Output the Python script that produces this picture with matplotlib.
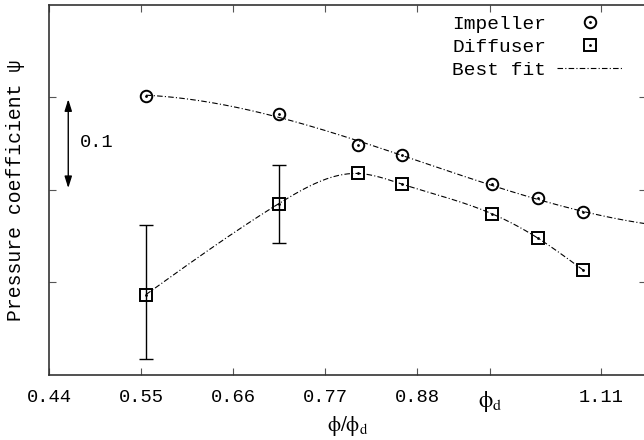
import matplotlib
matplotlib.use("Agg")
import matplotlib.pyplot as plt
from matplotlib.lines import Line2D
import numpy as np

# datos
phi_d = 0.977
x_imp = [0.5616, 0.7222, 0.8172, 0.8711, 0.9800, 1.0346, 1.0894]
psi_imp = [0.5013, 0.4812, 0.4481, 0.4373, 0.4057, 0.3906, 0.3753]
x_dif = [0.5616, 0.7222, 0.8172, 0.8711, 0.9800, 1.0346, 1.0894]
psi_dif = [0.2868, 0.3850, 0.4174, 0.4058, 0.3737, 0.3478, 0.3133]
err_low = [0.070, 0.043, 0, 0, 0, 0, 0]
err_up = [0.075, 0.041, 0, 0, 0, 0, 0]

xticks = [4/9, 5/9, 6/9, 7/9, 8/9, phi_d, 10/9]
xlabels = ["0.44", "0.55", "0.66", "0.77", "0.88", r"$\mathrm{\phi_d}$", "1.11"]
yticks = [0.3, 0.4, 0.5]


def spline_natural(x, y, xs):
    # spline cubico natural que pasa por los puntos
    x = np.asarray(x, float)
    y = np.asarray(y, float)
    n = len(x)
    h = np.diff(x)
    A = np.zeros((n, n))
    b = np.zeros(n)
    A[0, 0] = A[-1, -1] = 1
    for i in range(1, n - 1):
        A[i, i - 1] = h[i - 1]
        A[i, i] = 2 * (h[i - 1] + h[i])
        A[i, i + 1] = h[i]
        b[i] = 6 * ((y[i + 1] - y[i]) / h[i] - (y[i] - y[i - 1]) / h[i - 1])
    m = np.linalg.solve(A, b)
    k = np.clip(np.searchsorted(x, xs) - 1, 0, n - 2)
    t1 = x[k + 1] - xs
    t0 = xs - x[k]
    hk = h[k]
    return (m[k] * t1**3 / (6 * hk) + m[k + 1] * t0**3 / (6 * hk)
            + (y[k] / hk - m[k] * hk / 6) * t1 + (y[k + 1] / hk - m[k + 1] * hk / 6) * t0)


plt.rcParams['font.family'] = ['Liberation Mono', 'DejaVu Sans']
plt.rcParams['mathtext.fontset'] = 'stix'
fs = 13.5

fig = plt.figure(figsize=(6.44, 4.4), dpi=100)
ax = fig.add_axes([49/644, 65/440, 596.5/644, 370/440])
xmin, xmax = 4/9, 4/9 + 596.5/828
ax.set_xlim(xmin, xmax)
ax.set_ylim(0.2, 0.2 + 370/927)

ls = (0, (5, 2, 1, 2))
# curvas de mejor ajuste
ci = np.polyfit(x_imp, psi_imp, 3)
xi = np.linspace(x_imp[0], xmax, 200)
ax.plot(xi, np.polyval(ci, xi), color='k', lw=0.8, linestyle=ls)
xd = np.linspace(x_dif[0], x_dif[-1], 300)
ax.plot(xd, spline_natural(x_dif, psi_dif, xd), color='k', lw=0.8, linestyle=ls)

# barras de error
ax.errorbar(x_dif[:2], psi_dif[:2], yerr=[err_low[:2], err_up[:2]], fmt='none',
            ecolor='k', elinewidth=1.0, capsize=4.7, capthick=1.0)

mk = dict(linestyle='none', markerfacecolor='none', markeredgecolor='k',
          markersize=8.3, markeredgewidth=1.4)
ax.plot(x_imp, psi_imp, marker='o', **mk)
ax.plot(x_dif, psi_dif, marker='s', **mk)
ax.plot(x_imp, psi_imp, '.', color='k', markersize=2)
ax.plot(x_dif, psi_dif, '.', color='k', markersize=2)

# ejes
ax.set_xticks(xticks)
ax.set_xticklabels(xlabels, fontsize=fs)
ax.get_xticklabels()[5].set_fontsize(16.5)
ax.set_yticks(yticks)
ax.set_yticklabels([])
ax.tick_params(direction='in', length=5, width=0.8, color='#555555',
               top=True, right=True, pad=10)
for s in ax.spines.values():
    s.set_color('#333333')
    s.set_linewidth(1.2)

ax.set_xlabel(r"$\mathrm{\phi/\phi_d}$", fontsize=fs + 1.5)
ax.xaxis.set_label_coords(0.5, -0.105)
ax.set_ylabel("Pressure coefficient ψ", fontsize=14.2)
ax.yaxis.set_label_coords(-0.0400, 0.5)

# flecha de escala
ax.annotate('', xy=(0.4677, 0.4016), xytext=(0.4677, 0.4975),
            arrowprops=dict(arrowstyle='<|-|>,head_length=0.7,head_width=0.22',
                            color='k', lw=1.0, shrinkA=0, shrinkB=0))
ax.text(0.4819, 0.4503, "0.1", fontsize=fs, ha='left', va='center')

# leyenda
h_imp = (Line2D([], [], marker='o', **mk), Line2D([], [], marker='.', color='k', linestyle='none', markersize=2))
h_dif = (Line2D([], [], marker='s', **mk), Line2D([], [], marker='.', color='k', linestyle='none', markersize=2))
h_fit = Line2D([], [], color='k', lw=0.8, linestyle=ls)
ax.legend([h_imp, h_dif, h_fit], ["Impeller", "Diffuser", "Best fit"],
          loc='upper right', bbox_to_anchor=(0.962, 0.972), frameon=False,
          markerfirst=False, fontsize=14, handlelength=3.4, handletextpad=0.55,
          labelspacing=0.28, borderpad=0, borderaxespad=0)

fig.savefig("out.png", dpi=100)
